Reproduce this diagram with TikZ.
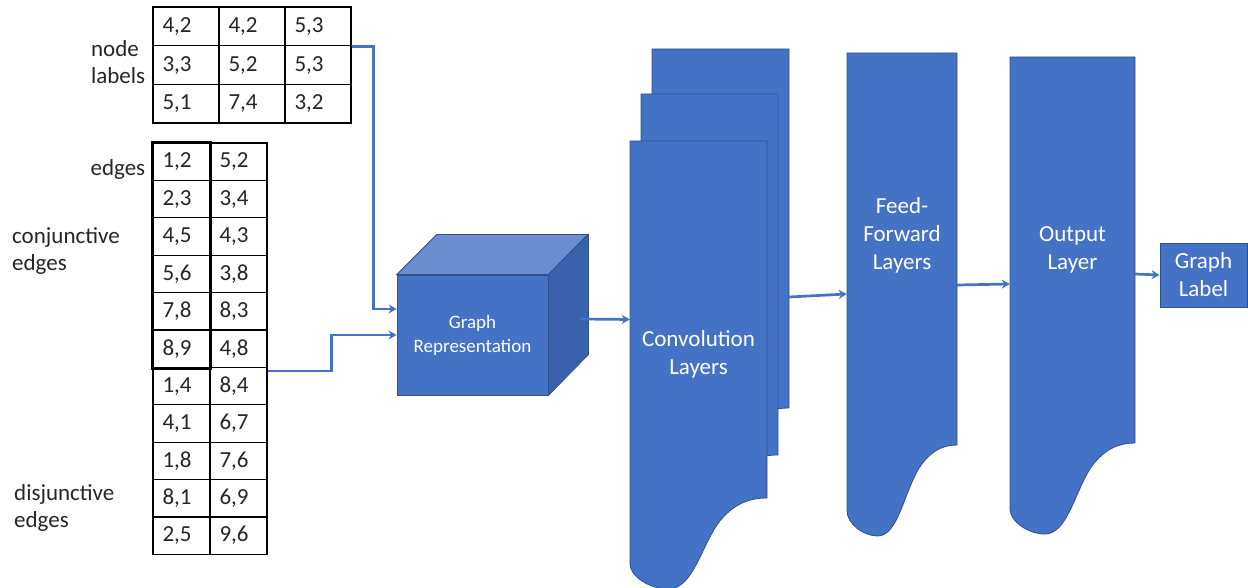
\documentclass[tikz,border=0pt]{standalone}
\usepackage{fontspec}
\setmainfont{Carlito}
\usetikzlibrary{arrows.meta,calc}

\definecolor{layerblue}{HTML}{4472C4}
\definecolor{layeredge}{HTML}{2F528F}
\definecolor{cubetop}{HTML}{6A8DD0}
\definecolor{cubeside}{HTML}{3A62AC}
\definecolor{txtgray}{HTML}{262626}

% sheet with a wavy bottom: name, left, right, top, bottom right
\newcommand\layersheet[5]{%
  \filldraw[sheet] (#2,#4) -- (#3,#4) -- (#3,#5)
    .. controls ({#3-0.12*(#3-#2)},#5) and ({#2+0.76*(#3-#2)},#5+5) .. ({#2+0.65*(#3-#2)},#5+24)
    .. controls ({#2+0.52*(#3-#2)},#5+48) and ({#2+0.46*(#3-#2)},#5+91) .. ({#2+0.28*(#3-#2)},#5+91)
    .. controls ({#2+0.14*(#3-#2)},#5+91) and (#2,#5+78) .. (#2,#5+66) -- cycle;
  \node[inner sep=0, minimum width={#3-#2}, minimum height={#5-#4}] (#1) at ({(#2+#3)/2},{(#4+#5)/2}) {};
}

\begin{document}
\begin{tikzpicture}[x=1pt,y=-1pt,
    nlcell/.style={draw, line width=1.2pt, inner xsep=9.5pt, inner ysep=0pt, text width=47pt,
      minimum height=38.7pt, align=left, text=txtgray, font=\fontsize{23}{27}\selectfont},
    ecell/.style={nlcell, text width=38pt, minimum height=37.4pt},
    lbl/.style={inner sep=0, align=left, text=txtgray, font=\fontsize{23}{27}\selectfont},
    sheet/.style={fill=layerblue, draw=layeredge, line width=0.8pt},
    layertxt/.style={align=center, text=white, font=\fontsize{23}{28}\selectfont},
    conn/.style={draw=layerblue, line width=2.7pt, -{Stealth[length=8pt,width=9pt]}}]
    \useasboundingbox (0,0) rectangle (1248,588);

    % input tables
    \foreach \a/\b/\c [count=\r] in {{4,2}/{4,2}/{5,3}, {3,3}/{5,2}/{5,3}, {5,1}/{7,4}/{3,2}} {
        \node[nlcell] (nl-\r-1) at (186,{7+38.7*(\r-0.5)}) {\a};
        \node[nlcell] (nl-\r-2) at (252,{7+38.7*(\r-0.5)}) {\b};
        \node[nlcell] (nl-\r-3) at (318,{7+38.7*(\r-0.5)}) {\c};
    }
    \foreach \a/\b [count=\r] in {{1,2}/{5,2}, {2,3}/{3,4}, {4,5}/{4,3}, {5,6}/{3,8}, {7,8}/{8,3},
        {8,9}/{4,8}, {1,4}/{8,4}, {4,1}/{6,7}, {1,8}/{7,6}, {8,1}/{6,9}, {2,5}/{9,6}} {
        \node[ecell] (e-\r-1) at (181.5,{143+37.4*(\r-0.5)}) {\a};
        \node[ecell] (e-\r-2) at (238.5,{143+37.4*(\r-0.5)}) {\b};
    }
    \draw[line width=3pt] (e-1-1.north west) rectangle (e-6-1.south east);

    \node[lbl, anchor=east] (nltxt) at ([xshift=-7pt,yshift=3pt]nl-2-1.west) {node\\labels};
    \node[lbl, anchor=east] (edtxt) at ([xshift=-7pt,yshift=-8pt]e-1-1.west) {edges};
    \node[lbl, anchor=west] (conjtxt) at (12,251) {conjunctive\\edges};
    \node[lbl, anchor=west] (disjtxt) at (14,508) {disjunctive\\edges};

    % graph representation cube
    \node[sheet, minimum width=151pt, minimum height=120pt, inner sep=0, align=center, text=white,
        font=\fontsize{19}{24}\selectfont] (gr) at (472.5,335) {Graph\\Representation};
    \filldraw[fill=cubetop, draw=layeredge, line width=0.8pt] (gr.north west) -- ++(40,-40) -- ++(151,0) -- (gr.north east) -- cycle;
    \filldraw[fill=cubeside, draw=layeredge, line width=0.8pt] (gr.north east) -- ++(40,-40) -- ++(0,120) -- (gr.south east) -- cycle;

    % layers
    \layersheet{c3}{652}{789}{49}{408}
    \layersheet{c2}{641}{778}{94}{455}
    \layersheet{c1}{630}{767}{141}{498}
    \layersheet{ff}{847}{957}{53}{445}
    \layersheet{out}{1010}{1135}{57}{443}
    \node[layertxt] (convtxt) at ([yshift=-35pt]c1.center) {Convolution\\Layers};
    \node[layertxt] (fftxt) at ([yshift=14pt]ff.center) {Feed-\\Forward\\Layers};
    \node[layertxt] (outtxt) at (out.center) {Output\\Layer};
    \node[sheet, minimum width=87pt, minimum height=64pt, inner sep=0, layertxt] (lab) at (1203.5,275) {Graph\\Label};

    % connectors
    \draw[conn] (nl-1-3.south east) -- ++(22,0) |- ([yshift=26pt]gr.west);
    \draw[conn] ([yshift=-3pt]e-6-2.south east) -- ++(64,0) |- (gr.west);
    \draw[conn] ([xshift=32pt,yshift=16pt]gr.east) -- (c1.west);
    \draw[conn] ([yshift=-68.5pt]c3.east) -- ([yshift=-45pt]ff.west);
    \draw[conn] ([yshift=-36pt]ff.east) -- ([yshift=-34pt]out.west);
    \draw[conn] ([yshift=-24pt]out.east) -- (lab.west);
\end{tikzpicture}
\end{document}
